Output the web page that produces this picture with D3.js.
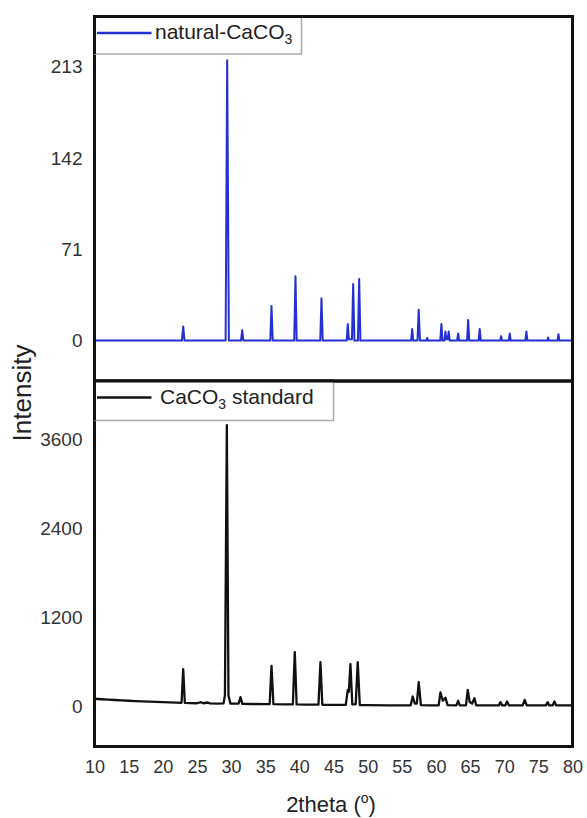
<!DOCTYPE html>
<html>
<head>
<meta charset="utf-8">
<script src="https://cdn.jsdelivr.net/npm/d3@7"></script>
<style>
  html, body { margin: 0; padding: 0; background: #fff; }
  svg { display: block; }
  svg text { font-family: "Liberation Sans", Arial, sans-serif; }
</style>
</head>
<body>
<svg id="chart" width="587" height="818"></svg>
<script>
// ---------- DATA ----------
const xTicks = [10, 15, 20, 25, 30, 35, 40, 45, 50, 55, 60, 65, 70, 75, 80];
const topTicks = [0, 71, 142, 213];
const bottomTicks = [0, 1200, 2400, 3600];

// natural-CaCO3 pattern (2theta, intensity)
const natTheta = [10, 22.8, 22.99, 23.18, 29.2, 29.43, 29.68, 31.45, 31.63, 31.8,
  35.74, 35.92, 36.1, 39.25, 39.43, 39.61, 43.06, 43.24, 43.42,
  46.93, 47.09, 47.25, 47.7, 47.88, 48.06, 48.58, 48.76, 48.94,
  56.36, 56.52, 56.68, 57.3, 57.48, 57.66, 58.6, 58.71, 58.82,
  60.64, 60.8, 60.96, 61.25, 61.39, 61.55, 61.72, 61.87, 62.02,
  63.1, 63.25, 63.4, 64.56, 64.72, 64.88, 66.25, 66.41, 66.57,
  69.42, 69.55, 69.68, 70.67, 70.81, 70.95, 73.1, 73.25, 73.4,
  76.3, 76.43, 76.56, 77.8, 77.94, 78.08, 80];
const natIntensity = [0, 0, 11, 0, 0, 218, 0, 0, 8, 0,
  0, 27, 0, 0, 50, 0, 0, 33, 0,
  0, 13, 1, 1, 44, 0, 0, 48, 0,
  0, 9, 0, 0, 24, 0, 0, 2, 0,
  0, 13, 0, 0, 7, 1, 1, 7, 0,
  0, 5.5, 0, 0, 16, 0, 0, 9, 0,
  0, 3.5, 0, 0, 5.5, 0, 0, 7, 0,
  0, 2.5, 0, 0, 5, 0, 0];

// CaCO3 standard pattern (2theta, intensity)
const stdTheta = [10, 11, 12, 13, 14, 15, 16, 17, 18, 19, 20, 21, 22, 22.75, 22.99, 23.23,
  24, 25, 25.6, 25.9, 26.6, 26.9, 28, 28.9, 29.1, 29.38, 29.62, 29.9,
  31.1, 31.38, 31.65, 33, 35, 35.65, 35.92, 36.2, 38, 39.05, 39.33, 39.6,
  41, 42.8, 43.09, 43.36, 45, 46.8, 47.09, 47.25, 47.48, 47.75, 48.25, 48.55, 48.85,
  50, 53, 56.3, 56.6, 56.9, 57.2, 57.48, 57.8, 59, 60.4, 60.66, 61.0, 61.4, 61.7,
  63.0, 63.25, 63.5, 64.4, 64.66, 64.95, 65.3, 65.64, 65.9, 67, 69.2, 69.44, 69.7,
  70.15, 70.42, 70.7, 72.7, 73.0, 73.3, 76.1, 76.37, 76.6, 77.1, 77.35, 77.6, 80];
const stdIntensity = [105, 98, 92, 88, 84, 78, 74, 70, 66, 62, 58, 55, 52, 50, 505, 48,
  46, 44, 58, 44, 54, 42, 40, 42, 150, 3800, 150, 40,
  38, 127, 36, 34, 32, 34, 549, 32, 30, 30, 734, 28,
  26, 26, 599, 24, 22, 22, 225, 200, 572, 30, 30, 599, 20,
  18, 16, 16, 135, 40, 40, 329, 20, 16, 16, 189, 80, 117, 18,
  16, 77, 16, 16, 225, 60, 40, 113, 16, 15, 15, 59, 15,
  15, 67, 15, 15, 90, 15, 15, 59, 15, 15, 67, 15, 15];

// ---------- LAYOUT ----------
const FONT = "'Liberation Sans', Arial, sans-serif";
const svg = d3.select("#chart");
const left = 94.5, right = 572.5;
const topY0 = 16.5, midY = 381, botY1 = 746.5;

const x = d3.scaleLinear().domain([10, 80]).range([left, right]);
const yTop = d3.scaleLinear().domain([-31.4, 252]).range([midY, topY0]);
const yBot = d3.scaleLinear().domain([-540, 4395]).range([botY1, midY]);

const defs = svg.append("defs");
defs.append("clipPath").attr("id", "clipTop").append("rect")
  .attr("x", left).attr("y", topY0).attr("width", right - left).attr("height", midY - topY0);
defs.append("clipPath").attr("id", "clipBot").append("rect")
  .attr("x", left).attr("y", midY).attr("width", right - left).attr("height", botY1 - midY);

const natData = natTheta.map((t, i) => [t, natIntensity[i]]);
const stdData = stdTheta.map((t, i) => [t, stdIntensity[i]]);

svg.append("path")
  .datum(natData)
  .attr("clip-path", "url(#clipTop)")
  .attr("fill", "none")
  .attr("stroke", "#2431d2")
  .attr("stroke-width", 2)
  .attr("stroke-linejoin", "round")
  .attr("d", d3.line().x(d => x(d[0])).y(d => yTop(d[1])));

svg.append("path")
  .datum(stdData)
  .attr("clip-path", "url(#clipBot)")
  .attr("fill", "none")
  .attr("stroke", "#111")
  .attr("stroke-width", 2.3)
  .attr("stroke-linejoin", "round")
  .attr("d", d3.line().x(d => x(d[0])).y(d => yBot(d[1])));

// y axes (labels only)
const axTop = svg.append("g").attr("transform", `translate(${left},0)`)
  .call(d3.axisLeft(yTop).tickValues(topTicks).tickSize(0).tickPadding(12).tickFormat(d3.format("d")));
const axBot = svg.append("g").attr("transform", `translate(${left},0)`)
  .call(d3.axisLeft(yBot).tickValues(bottomTicks).tickSize(0).tickPadding(12).tickFormat(d3.format("d")));
[axTop, axBot].forEach(g => {
  g.attr("font-family", null).attr("font-size", null);
  g.select(".domain").remove();
  g.selectAll("text").style("font-size", "19px").style("font-family", FONT).attr("fill", "#333");
});

// x axis (labels only)
const axX = svg.append("g").attr("transform", `translate(0,${botY1})`)
  .call(d3.axisBottom(x).tickValues(xTicks).tickSize(0).tickPadding(14).tickFormat(d3.format("d")));
axX.attr("font-family", null).attr("font-size", null);
axX.select(".domain").remove();
axX.selectAll("text").style("font-size", "18px").style("font-family", FONT).attr("fill", "#333");

// frames
svg.append("rect").attr("x", left).attr("y", topY0).attr("width", right - left).attr("height", midY - topY0)
  .attr("fill", "none").attr("stroke", "#111").attr("stroke-width", 3);
svg.append("rect").attr("x", left).attr("y", midY).attr("width", right - left).attr("height", botY1 - midY)
  .attr("fill", "none").attr("stroke", "#111").attr("stroke-width", 3);

// legends
function legend(y0, h, w, color, sw, parts) {
  const g = svg.append("g");
  g.append("rect").attr("x", left).attr("y", y0).attr("width", w).attr("height", h)
    .attr("fill", "#fff").attr("stroke", "#aaa").attr("stroke-width", 1.5);
  g.append("line").attr("x1", left).attr("x2", left).attr("y1", y0 - 1.5).attr("y2", y0 + h)
    .attr("stroke", "#111").attr("stroke-width", 3);
  g.append("line").attr("x1", left - 1.5).attr("x2", left + w + 1).attr("y1", y0).attr("y2", y0)
    .attr("stroke", "#111").attr("stroke-width", 3);
  g.append("line").attr("x1", 97).attr("x2", 151.5).attr("y1", y0 + 16.5).attr("y2", y0 + 16.5)
    .attr("stroke", color).attr("stroke-width", sw);
  const t = g.append("text").attr("x", parts.x).attr("y", y0 + 22.5)
    .style("font-size", "21px").style("font-family", FONT).attr("fill", "#222");
  t.append("tspan").text(parts.a);
  t.append("tspan").style("font-size", "14px").attr("dy", 5).text("3");
  if (parts.b) t.append("tspan").attr("dy", -5).text(parts.b);
}
legend(topY0, 37.5, 207, "#2431d2", 2.5, { x: 155, a: "natural-CaCO" });
legend(midY, 39.5, 239, "#111", 2.5, { x: 160, a: "CaCO", b: " standard" });

// axis titles
svg.append("text")
  .attr("transform", "translate(31,393) rotate(-90)")
  .attr("text-anchor", "middle")
  .style("font-size", "26px").style("font-family", FONT).attr("fill", "#222")
  .text("Intensity");

const xt = svg.append("text").attr("x", 331).attr("y", 812)
  .attr("text-anchor", "middle").style("font-size", "22px").style("font-family", FONT).attr("fill", "#222");
xt.append("tspan").text("2theta (");
xt.append("tspan").style("font-size", "14px").attr("dy", -9).text("o");
xt.append("tspan").attr("dy", 9).text(")");
</script>
</body>
</html>
